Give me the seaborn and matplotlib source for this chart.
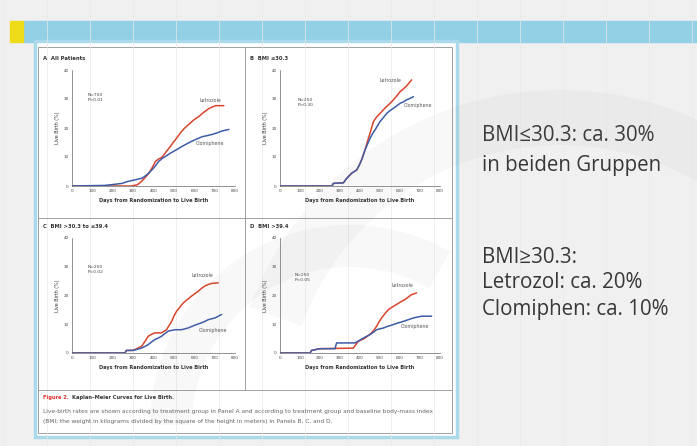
import numpy as np
import pandas as pd
import seaborn as sns
import matplotlib.pyplot as plt
from matplotlib.patches import Rectangle, Wedge

sns.set_theme(style='white')
plt.rcParams['font.family'] = ['DejaVu Sans']

# ---- data (days from randomization, live birth %) ----
a_let_days = [0, 290, 320, 340, 360, 377, 395, 410, 425, 443, 462, 483, 508, 533, 553, 574, 598, 623, 648, 672, 690, 705, 745]
a_let_pct = [0, 0, 0.4, 1.5, 3.0, 4.4, 6.5, 8.5, 9.3, 10.0, 11.8, 13.7, 16.0, 18.4, 20.0, 21.3, 22.8, 24.0, 25.5, 26.7, 27.3, 27.7, 27.7]
a_clo_days = [0, 160, 200, 246, 270, 295, 320, 344, 370, 393, 410, 426, 443, 459, 480, 500, 520, 541, 565, 590, 615, 639, 665, 689, 715, 738, 770]
a_clo_pct = [0, 0.2, 0.5, 0.9, 1.5, 1.9, 2.3, 2.7, 4.0, 5.6, 7.0, 8.5, 9.5, 10.2, 11.2, 12.0, 12.8, 13.7, 14.6, 15.5, 16.3, 17.0, 17.4, 17.8, 18.4, 19.0, 19.5]

b_let_days = [0, 260, 267, 317, 333, 358, 383, 395, 408, 425, 440, 450, 467, 483, 500, 517, 533, 550, 567, 583, 600, 617, 633, 645, 658]
b_let_pct = [0, 0, 0.9, 1.1, 2.6, 4.4, 5.5, 7.0, 9.0, 12.4, 16.0, 18.2, 22.2, 23.8, 25.0, 26.3, 27.4, 28.5, 29.7, 31.0, 32.5, 33.5, 34.5, 35.5, 36.6]
b_clo_days = [0, 260, 267, 317, 333, 358, 383, 395, 408, 425, 438, 450, 462, 475, 488, 500, 517, 533, 550, 567, 583, 600, 617, 633, 650, 667]
b_clo_pct = [0, 0, 0.9, 1.1, 2.6, 4.4, 5.5, 7.0, 9.0, 12.4, 14.5, 16.4, 18.0, 19.3, 20.8, 22.2, 23.6, 25.0, 26.0, 26.8, 27.6, 28.5, 29.0, 29.7, 30.2, 30.8]

c_let_days = [0, 260, 267, 300, 341, 358, 374, 390, 407, 439, 464, 476, 489, 500, 513, 530, 546, 566, 587, 604, 620, 636, 652, 668, 685, 718]
c_let_pct = [0, 0, 0.9, 0.9, 2.3, 4.0, 5.8, 6.5, 7.0, 7.0, 8.1, 9.5, 11.0, 12.8, 14.5, 16.0, 17.4, 18.6, 19.8, 20.7, 21.5, 22.5, 23.3, 23.8, 24.2, 24.4]
c_clo_days = [0, 260, 267, 300, 341, 358, 374, 390, 407, 423, 439, 455, 472, 505, 538, 570, 587, 603, 620, 636, 652, 669, 702, 718, 734]
c_clo_pct = [0, 0, 0.9, 0.9, 1.7, 2.3, 2.9, 3.8, 4.7, 5.2, 5.8, 6.7, 7.6, 8.1, 8.1, 8.7, 9.2, 9.7, 10.1, 10.5, 11.0, 11.6, 12.2, 12.8, 13.4]

d_let_days = [0, 150, 158, 200, 367, 380, 392, 408, 425, 442, 458, 470, 483, 495, 508, 525, 542, 562, 583, 604, 625, 642, 658, 683]
d_let_pct = [0, 0, 0.9, 1.5, 1.7, 3.0, 4.1, 4.6, 5.2, 6.1, 7.0, 8.0, 9.3, 10.8, 12.2, 13.7, 15.1, 16.0, 16.9, 17.8, 18.6, 19.5, 20.3, 20.9]
d_clo_days = [0, 150, 158, 200, 275, 283, 375, 395, 417, 433, 450, 467, 483, 517, 540, 567, 592, 617, 642, 667, 708, 758]
d_clo_pct = [0, 0, 0.9, 1.5, 1.5, 3.5, 3.5, 4.3, 5.2, 5.8, 6.4, 7.2, 8.1, 8.7, 9.3, 9.9, 10.5, 11.0, 11.6, 12.2, 12.8, 12.8]

panel_titles = ['A  All Patients', 'B  BMI \u226430.3', 'C  BMI >30.3 to \u226439.4', 'D  BMI >39.4']
panel_stats = ['N=750\nP=0.01', 'N=250\nP=0.30', 'N=250\nP=0.02', 'N=250\nP=0.05']
x_ticks = [0, 100, 200, 300, 400, 500, 600, 700, 800]
y_ticks = [0, 10, 20, 30, 40]

right_text = ['BMI\u226430.3: ca. 30%', 'in beiden Gruppen', 'BMI\u226530.3:',
              'Letrozol: ca. 20%', 'Clomiphen: ca. 10%']
caption_head = 'Kaplan\u2013Meier Curves for Live Birth.'
caption_body = ['Live-birth rates are shown according to treatment group in Panel A and according to treatment group and baseline body-mass index',
                '(BMI; the weight in kilograms divided by the square of the height in meters) in Panels B, C, and D.']

RED = '#d8452c'
BLUE = '#3d5ca8'
W, H = 697, 446

fig = plt.figure(figsize=(W / 100, H / 100), dpi=100)
fig.patch.set_facecolor('#f0f0f0')

# slide background in pixel coordinates
bg = fig.add_axes([0, 0, 1, 1], zorder=0)
bg.set_xlim(0, W)
bg.set_ylim(H, 0)
bg.axis('off')
for gx in range(4, W, 43):
    bg.plot([gx, gx], [0, H], color='#e9e9e9', lw=0.5)
bg.add_patch(Rectangle((24, 21), W - 24, 21, color='#92d0e6'))
bg.add_patch(Rectangle((10, 21), 13, 21, color='#eedc1a'))
bg.add_patch(Rectangle((35, 41), 422, 396, facecolor='white', edgecolor='#a9d9ea', lw=2.5))
bg.add_patch(Rectangle((38, 47), 414, 386, facecolor='white', edgecolor='#a0a0a0', lw=0.7))
bg.plot([245, 245], [47, 390], color='#a0a0a0', lw=0.7)
bg.plot([38, 452], [218, 218], color='#a0a0a0', lw=0.7)
bg.plot([38, 452], [390, 390], color='#a0a0a0', lw=0.7)

# caption
bg.text(43, 398, 'Figure 2.', color='#e0302f', fontsize=3.7, fontweight='bold', va='center')
bg.text(72, 398, caption_head, color='#333333', fontsize=3.7, fontweight='bold', va='center')
for i, line in enumerate(caption_body):
    bg.text(43, 411 + i * 10, line, color='#666666', fontsize=4.2, va='center')

# right-hand slide text
for txt, ty in zip(right_text, [135, 165, 257, 283, 310]):
    bg.text(482, ty, txt, color='#383838', fontsize=14.8, family=['Open Sans', 'DejaVu Sans'], va='center')

panels = [
    (a_let_days, a_let_pct, a_clo_days, a_clo_pct, (72, 235, 70, 186), (677, 29.0), (677, 14.1)),
    (b_let_days, b_let_pct, b_clo_days, b_clo_pct, (280, 440, 70, 186), (550, 35.9), (690, 27.2)),
    (c_let_days, c_let_pct, c_clo_days, c_clo_pct, (72, 235, 238, 353), (638, 26.4), (692, 7.3)),
    (d_let_days, d_let_pct, d_clo_days, d_clo_pct, (280, 440, 238, 353), (610, 23.0), (675, 8.7)),
]
title_pos = [(43, 59), (250, 59), (43, 227), (250, 227)]
stat_pos = [(78, 32.0), (90, 30.5), (78, 30.6), (75, 27.8)]

for k, (ld, lp, cd, cp, box, lpos, cpos) in enumerate(panels):
    l, r, t, b = box
    ax = fig.add_axes([l / W, 1 - b / H, (r - l) / W, (b - t) / H], zorder=2)
    df = pd.concat([
        pd.DataFrame({'day': ld, 'pct': lp, 'group': 'Letrozole'}),
        pd.DataFrame({'day': cd, 'pct': cp, 'group': 'Clomiphene'}),
    ])
    sns.lineplot(data=df, x='day', y='pct', hue='group', palette={'Letrozole': RED, 'Clomiphene': BLUE},
                 estimator=None, lw=1.1, legend=False, ax=ax)
    ax.set_xlim(0, 800)
    ax.set_ylim(0, 40)
    ax.set_xticks(x_ticks)
    ax.set_yticks(y_ticks)
    ax.set_facecolor('none')
    ax.tick_params(labelsize=3, length=1.5, width=0.4, pad=1, colors='#444444')
    for s in ['top', 'right']:
        ax.spines[s].set_visible(False)
    for s in ['left', 'bottom']:
        ax.spines[s].set_color('#666666')
        ax.spines[s].set_linewidth(0.5)
    ax.set_xlabel('Days from Randomization to Live Birth', fontsize=3.6, fontweight='bold', labelpad=3, color='#333333')
    ax.set_ylabel('Live Birth (%)', fontsize=3.4, labelpad=2, color='#333333')
    ax.text(lpos[0], lpos[1], 'Letrozole', fontsize=3.4, color='#555555', ha='center')
    ax.text(cpos[0], cpos[1], 'Clomiphene', fontsize=3.4, color='#555555', ha='center')
    ax.text(stat_pos[k][0], stat_pos[k][1], panel_stats[k], fontsize=3.2, color='#444444', va='top', linespacing=1.4)
    bg.text(title_pos[k][0], title_pos[k][1], panel_titles[k], fontsize=3.8, fontweight='bold', color='#333333', va='center')

# faint watermark rings over everything
ov = fig.add_axes([0, 0, 1, 1], zorder=5)
ov.set_xlim(0, W)
ov.set_ylim(H, 0)
ov.axis('off')
ov.patch.set_alpha(0)
ov.add_patch(Wedge((350, 425), 200, 180, 300, width=42, color='#8a8a8a', alpha=0.06, lw=0))
ov.add_patch(Wedge((560, 420), 330, 200, 360, width=55, color='#8a8a8a', alpha=0.06, lw=0))

fig.savefig('out.png', dpi=100, facecolor=fig.get_facecolor())
